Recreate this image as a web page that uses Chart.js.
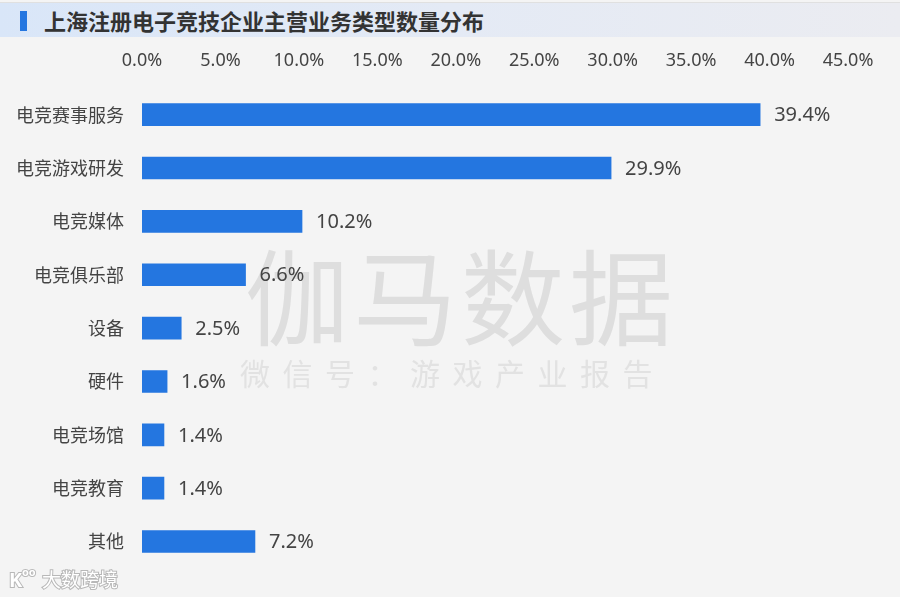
<!DOCTYPE html>
<html>
<head>
<meta charset="utf-8">
<script src="https://cdn.jsdelivr.net/npm/chart.js@4.4.0/dist/chart.umd.min.js"></script>
<style>
  html, body { margin: 0; padding: 0; background: #f4f4f4; }
  #wrap { position: relative; width: 900px; height: 597px; overflow: hidden; }
  #title {
    position: absolute; left: 0; top: 2px; width: 900px; height: 34px;
    background: linear-gradient(to right, #d9e6f8 0%, #e4eaf5 50%, #ebecf1 100%);
    border-top: 1px solid #e0e0e0;
  }
  #title .mark { position: absolute; left: 20px; top: 8px; width: 7px; height: 20px; background: #2476e0; }
  #title .txt {
    position: absolute; left: 44px; top: 2px; font-family: "Noto Sans CJK SC", sans-serif;
    font-size: 22px; font-weight: bold; color: #333; line-height: 30px;
  }
  canvas { position: absolute; left: 0; top: 0; }
</style>
</head>
<body>
<div id="wrap">
  <canvas id="c" width="900" height="597"></canvas>
  <div id="title"><div class="mark"></div><div class="txt">上海注册电子竞技企业主营业务类型数量分布</div></div>
</div>
<script>
const categories = ["电竞赛事服务", "电竞游戏研发", "电竞媒体", "电竞俱乐部", "设备", "硬件", "电竞场馆", "电竞教育", "其他"];
const values = [39.4, 29.9, 10.2, 6.6, 2.5, 1.6, 1.4, 1.4, 7.2];
const tickMax = 45;
const tickStep = 5;

const FONT = '"Noto Sans", "Noto Sans CJK SC", sans-serif';

const bgPlugin = {
  id: 'bg',
  beforeDraw(chart) {
    const ctx = chart.ctx;
    ctx.save();
    ctx.fillStyle = '#f4f4f4';
    ctx.fillRect(0, 0, chart.width, chart.height);
    // watermark
    ctx.fillStyle = '#dedede';
    ctx.textAlign = 'left';
    ctx.textBaseline = 'middle';
    ctx.font = '104px "Noto Sans CJK SC"';
    const wm = "伽马数据";
    let x = 245;
    for (const ch of wm) { ctx.fillText(ch, x, 298); x += 108; }
    ctx.fillStyle = '#e2e2e2';
    ctx.font = '30px "Noto Sans CJK SC"';
    const wm2 = "微信号：游戏产业报告";
    x = 240;
    for (const ch of wm2) { ctx.fillText(ch, x, 374); x += 42.5; }
    ctx.restore();
  },
  afterDraw(chart) {
    const ctx = chart.ctx;
    ctx.save();
    ctx.font = '19px "Noto Sans CJK SC"';
    ctx.textBaseline = 'middle';
    ctx.lineWidth = 2;
    ctx.strokeStyle = '#b8b8b8';
    ctx.fillStyle = '#ffffff';
    ctx.strokeText("大数跨境", 42, 580);
    ctx.fillText("大数跨境", 42, 580);
    ctx.font = 'bold 20px "Noto Sans"';
    ctx.strokeText("K", 9, 581);
    ctx.fillText("K", 9, 581);
    ctx.font = 'bold 11px "Noto Sans"';
    ctx.strokeText("oo", 22, 573);
    ctx.fillText("oo", 22, 573);
    ctx.restore();
  }
};

const labelPlugin = {
  id: 'vlabels',
  afterDatasetsDraw(chart) {
    const ctx = chart.ctx;
    const meta = chart.getDatasetMeta(0);
    ctx.save();
    ctx.font = '20px ' + FONT;
    ctx.fillStyle = '#444';
    ctx.textAlign = 'left';
    ctx.textBaseline = 'middle';
    meta.data.forEach((bar, i) => {
      ctx.fillText(values[i].toFixed(1) + '%', bar.x + 14, bar.y + 1);
    });
    ctx.restore();
  }
};

new Chart(document.getElementById('c'), {
  type: 'bar',
  data: {
    labels: categories,
    datasets: [{
      data: values,
      backgroundColor: '#2476e0',
      barThickness: 22,
      borderWidth: 0
    }]
  },
  options: {
    indexAxis: 'y',
    responsive: false,
    animation: false,
    devicePixelRatio: 1,
    layout: { padding: { left: 0, right: 52, top: 40, bottom: 25 } },
    plugins: { legend: { display: false }, tooltip: { enabled: false }, title: { display: false } },
    scales: {
      x: {
        position: 'top',
        min: 0, max: tickMax,
        grid: { display: false, drawTicks: false },
        border: { display: false },
        ticks: {
          stepSize: tickStep,
          padding: 16,
          color: '#444',
          font: { family: FONT, size: 18 },
          callback: v => Number(v).toFixed(1) + '%'
        },
        afterFit(scale) { scale.height = 48; }
      },
      y: {
        grid: { display: false, drawTicks: false },
        border: { display: false },
        ticks: {
          padding: 18,
          color: '#444',
          font: { family: '"Noto Sans CJK SC", sans-serif', size: 18 }
        },
        afterFit(scale) { scale.width = 142; }
      }
    }
  },
  plugins: [bgPlugin, labelPlugin]
});
</script>
</body>
</html>
